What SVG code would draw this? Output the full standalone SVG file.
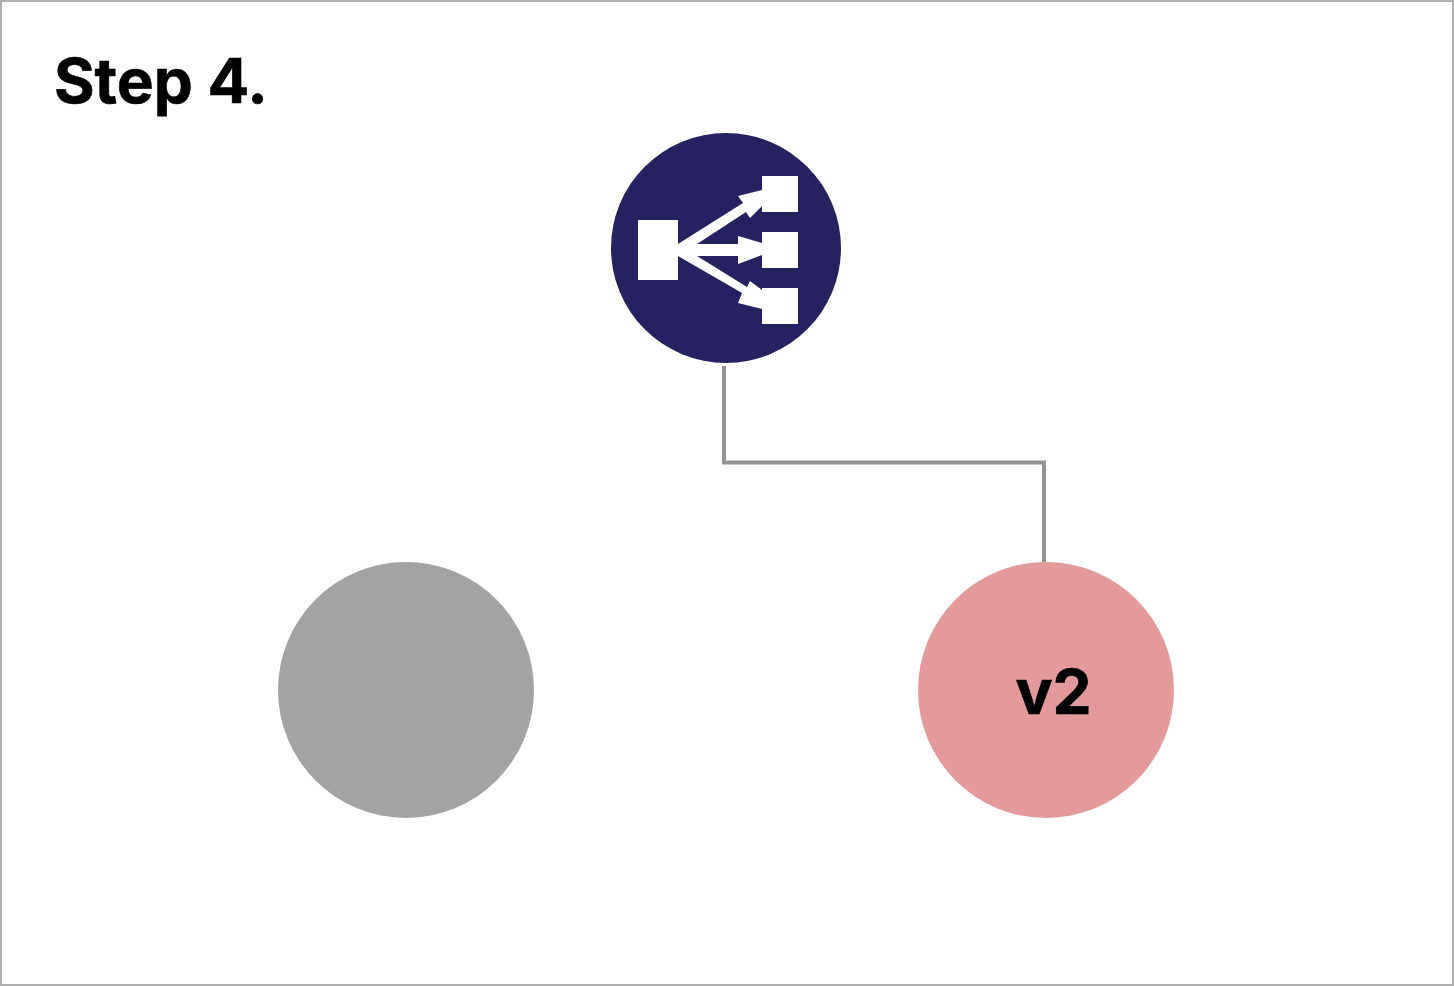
<svg xmlns="http://www.w3.org/2000/svg" width="1454" height="986" viewBox="0 0 1454 986">
<style>
.t{font-family:Inter,"Liberation Sans",sans-serif;font-weight:700;fill:#000;stroke:#000;stroke-width:.6}
.w{fill:#fff}
</style>
<rect id="frame" x="1" y="1" width="1452" height="984" fill="#fff" stroke="#b0b0b0" stroke-width="2"/>
<g id="title"><text class="t" x="54" y="103" font-size="62">Step 4.</text></g>
<g id="connectors"><path d="M724 366V462.500H1044V563" fill="none" stroke="#939393" stroke-width="4"/></g>
<g id="load-balancer">
<circle cx="726" cy="248" r="115" fill="#262262"/>
<rect class="w" x="638" y="220" width="40" height="60"/>
<rect class="w" x="762" y="176" width="36" height="36"/>
<rect class="w" x="762" y="232" width="36" height="36"/>
<rect class="w" x="762" y="288" width="36" height="36"/>
<path class="w" d="M678 244L743 203L738 196L762 190V206L750 218L746 212L697 244H738V236L762 243V255L738 264V256H697L747 287L750 281L762 290V309L738 303L742 293L678 256Z"/>
</g>
<g id="node-v1"><circle cx="406" cy="690" r="128" fill="#a3a3a3"/></g>
<g id="node-v2"><circle cx="1046" cy="690" r="128" fill="#e49a9a"/><text class="t" x="1053.500" y="714" font-size="62" text-anchor="middle">v2</text></g>
</svg>
